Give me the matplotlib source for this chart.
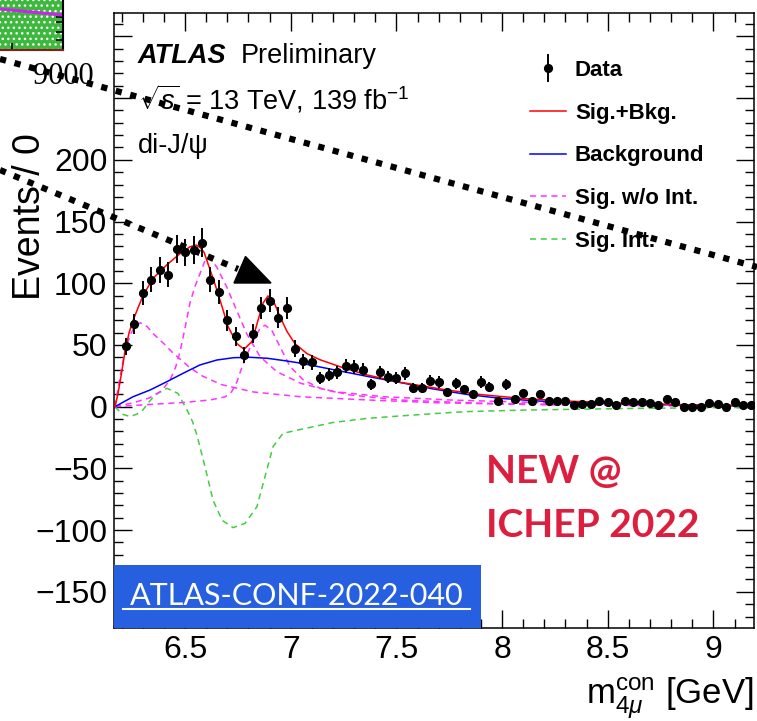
import numpy as np
import matplotlib
matplotlib.use("Agg")
import matplotlib.pyplot as plt
from matplotlib.lines import Line2D
from matplotlib.patches import Rectangle, Polygon
from matplotlib.ticker import MultipleLocator, FuncFormatter
from matplotlib.legend_handler import HandlerErrorbar
from matplotlib.container import ErrorbarContainer

plt.rcParams['font.family'] = ['Liberation Sans', 'DejaVu Sans']
plt.rcParams['mathtext.fontset'] = 'custom'
plt.rcParams['mathtext.rm'] = 'Liberation Sans'
plt.rcParams['mathtext.it'] = 'Liberation Sans:italic'
plt.rcParams['mathtext.bf'] = 'Liberation Sans:bold'

# ---- data: di-J/psi candidates, 40 MeV bins ----
bin_centers = np.round(np.arange(6.22, 9.20, 0.04), 2)
counts = [49, 67, 92, 103, 111, 107, 128, 125, 127, 133,
          103, 93, 70, 57, 42, 59, 80, 86, 72, 80,
          47, 37, 36, 23, 26, 28, 33, 32, 30, 18,
          28, 24, 23, 27, 15, 15, 21, 20, 12, 19,
          14, 10, 20, 16, 5, 18, 6, 11, 5, 10,
          5, 5, 5, 1, 2, 2, 5, 4, 1, 5,
          4, 4, 3, 1, 6, 4, 0, 0, 0, 3,
          2, 0, 4, 1, 1]

# ---- fit curves ----
sb_x = [6.168, 6.182, 6.197, 6.216, 6.235, 6.254, 6.277, 6.301, 6.348, 6.414,
        6.476, 6.523, 6.552, 6.571, 6.590, 6.608, 6.642, 6.675, 6.703, 6.746,
        6.779, 6.817, 6.845, 6.869, 6.892, 6.916, 6.949, 6.982, 7.020, 7.077,
        7.139, 7.233, 7.361, 7.517, 7.740, 7.90, 8.10, 8.30, 8.50, 8.70, 8.90, 9.19]
sb_y = [0, 10, 25, 45, 60, 70, 80, 90, 104, 115,
        124, 129.5, 131, 129, 125, 116, 99, 81, 65, 51,
        46.5, 53, 70, 84, 89.7, 86.4, 73, 61, 51, 43,
        38, 32.4, 25.7, 19.8, 13.5, 9.8, 6.6, 4.6, 3.3, 2.3, 1.5, 0.9]

bkg_x = [6.168, 6.253, 6.334, 6.414, 6.49, 6.57, 6.65, 6.73, 6.81, 6.89,
         6.97, 7.05, 7.21, 7.37, 7.52, 7.67, 7.83, 7.99, 8.15, 8.30,
         8.46, 8.62, 8.78, 8.94, 9.09, 9.19]
bkg_y = [0, 8, 13.5, 20.3, 27, 33.8, 37.8, 39.7, 40, 39.2,
         37.3, 35.2, 29.7, 24.3, 19.5, 14.5, 10, 6.8, 4.8, 3.5,
         2.7, 2.1, 1.6, 1.1, 0.7, 0.5]

sig0_x = [6.168, 6.19, 6.215, 6.24, 6.265, 6.29, 6.32, 6.35, 6.40, 6.44,
          6.52, 6.58, 6.67, 6.82, 7.05, 7.37, 7.69, 8.2, 8.8, 9.19]
sig0_y = [0, 22, 45, 58, 66, 68, 65, 59, 51, 44,
          32, 25, 18, 12, 8, 5.4, 3.2, 1.5, 0.7, 0.4]

sig1_x = [6.168, 6.25, 6.33, 6.39, 6.43, 6.455, 6.476, 6.50, 6.523, 6.548,
          6.571, 6.60, 6.625, 6.65, 6.697, 6.744, 6.792, 6.855, 6.934, 7.046,
          7.201, 7.438, 7.757, 8.2, 8.8, 9.19]
sig1_y = [0, 3, 7, 13, 22, 32, 44.5, 64, 84, 98,
          108, 121, 119, 113, 97, 78, 59, 40.5, 28.4, 19,
          12.2, 8.1, 5.4, 3.2, 1.6, 1.0]

sig2_x = [6.168, 6.35, 6.50, 6.62, 6.69, 6.72, 6.745, 6.775, 6.815, 6.855,
          6.878, 6.91, 6.949, 6.997, 7.06, 7.139, 7.281, 7.517, 7.9, 8.5, 9.19]
sig2_y = [0, 2, 3.5, 5.5, 8, 12, 20, 35, 51, 63.5,
          66, 62, 48.6, 32.4, 21.6, 14.9, 9.5, 5.4, 2.8, 1.3, 0.7]

int_x = [6.168, 6.202, 6.24, 6.272, 6.30, 6.33, 6.358, 6.414, 6.466, 6.51,
         6.535, 6.556, 6.594, 6.632, 6.675, 6.727, 6.784, 6.84, 6.878, 6.916,
         6.963, 7.044, 7.20, 7.36, 7.517, 7.74, 7.83, 8.117, 8.62, 9.19]
int_y = [0, -6, -8, -6, -2.7, 4, 9.5, 14.9, 10.8, -3,
         -12, -23, -48.6, -75.6, -92, -98, -94.5, -81, -56.7, -32.4,
         -21.6, -18.5, -12.8, -9.5, -7.5, -4.9, -4, -2.7, -1.4, -0.5]

# ---- figure ----
W, H = 757, 721
fig = plt.figure(figsize=(W / 100, H / 100), dpi=100)
ax = fig.add_axes([114.3 / W, 1 - 628 / H, (754 - 114.3) / W, (628 - 12.7) / H])

RED, BLUE, MAG, GRN = '#ff0000', '#0000ff', '#ff33ff', '#44cc44'

ax.plot(int_x, int_y, color=GRN, lw=1.1, ls=(0, (4, 3)), zorder=2)
m0, = ax.plot(sig0_x, sig0_y, color=MAG, lw=1.1, ls=(0, (4, 3)), zorder=2)
ax.plot(sig1_x, sig1_y, color=MAG, lw=1.1, ls=(0, (4, 3)), zorder=2)
ax.plot(sig2_x, sig2_y, color=MAG, lw=1.1, ls=(0, (4, 3)), zorder=2)
bl, = ax.plot(bkg_x, bkg_y, color=BLUE, lw=1.1, zorder=3)
rd, = ax.plot(sb_x, sb_y, color=RED, lw=1.1, zorder=3)
gr = Line2D([], [], color=GRN, lw=1.1, ls=(0, (4, 3)))

err = np.sqrt(counts)
eb = ax.errorbar(bin_centers, counts, yerr=err, fmt='o', color='black',
                 ms=5.6, elinewidth=1.4, capsize=0, zorder=4)

ax.set_xlim(6.165, 9.192)
ax.set_ylim(-179.3, 319.2)
ax.xaxis.set_major_locator(MultipleLocator(0.5))
ax.xaxis.set_minor_locator(MultipleLocator(0.1))
ax.yaxis.set_major_locator(MultipleLocator(50))
ax.yaxis.set_minor_locator(MultipleLocator(10))
ax.xaxis.set_major_formatter(FuncFormatter(lambda v, p: f'{v:g}'))
ax.yaxis.set_major_formatter(FuncFormatter(
    lambda v, p: '' if v > 200 else f'{v:g}'.replace('-', '\u2212')))
ax.tick_params(which='both', direction='in', top=True, right=True, width=1.0,
               labelsize=23)
ax.tick_params(which='major', length=13)
ax.tick_params(which='minor', length=6.5)
ax.tick_params(axis='x', pad=5)
ax.tick_params(axis='y', pad=5)
for s in ax.spines.values():
    s.set_linewidth(1.1)

# ---- labels ----
ax.text(0.037, 0.9183, 'ATLAS', transform=ax.transAxes, fontsize=19.5,
        fontweight='bold', fontstyle='italic')
ax.text(0.198, 0.9183, 'Preliminary', transform=ax.transAxes, fontsize=19.5)
ax.text(0.037, 0.8419, r'$\sqrt{s}$ = 13 TeV, 139 fb$^{-1}$',
        transform=ax.transAxes, fontsize=19.5)
ax.text(0.037, 0.772, 'di-J/\u03c8', transform=ax.transAxes, fontsize=19.5)

ax.text(1.0, -0.125, r'm$_{4\mu}^{\mathrm{con}}$ [GeV]', transform=ax.transAxes,
        ha='right', va='baseline', fontsize=25)
fig.text(30 / W, 1 - 300 / H, 'Events / 0', rotation=90, ha='center',
         va='bottom', fontsize=27)

leg = ax.legend([eb, rd, bl, m0, gr],
                ['Data', 'Sig.+Bkg.', 'Background', 'Sig. w/o Int.', 'Sig. Int.'],
                loc='upper left', bbox_to_anchor=(0.6499, 0.9234),
                frameon=False, borderpad=0, borderaxespad=0,
                handlelength=1.62, handletextpad=0.4, labelspacing=0.98,
                prop={'family': 'Liberation Sans', 'weight': 'bold', 'size': 16},
                handler_map={ErrorbarContainer: HandlerErrorbar(yerr_size=0.65, numpoints=1)})

# conference note badge
bw = (481 - 114.3) / 639.7
ax.add_patch(Rectangle((0, 0), bw, (628 - 565) / 615.3, transform=ax.transAxes,
                       facecolor='#2660e0', edgecolor='none', zorder=5, clip_on=False))
ax.text((296.5 - 114.3) / 639.7, (628 - 596) / 615.3, 'ATLAS-CONF-2022-040',
        transform=ax.transAxes, ha='center', va='center', color='white',
        fontsize=22, family='Lato', zorder=6)
ax.add_line(Line2D([(123 - 114.3) / 639.7, (470 - 114.3) / 639.7],
                   [(628 - 609) / 615.3] * 2, transform=ax.transAxes,
                   color='white', lw=1.5, zorder=6))

ax.text((486 - 114.3) / 639.7, (628 - 483) / 615.3, 'NEW @', transform=ax.transAxes,
        color='#dc1f3f', fontsize=28, family='Lato', fontweight='bold', va='baseline')
ax.text((486 - 114.3) / 639.7, (628 - 537) / 615.3, 'ICHEP 2022', transform=ax.transAxes,
        color='#dc1f3f', fontsize=28, family='Lato', fontweight='bold', va='baseline')

# ---- pasted corner: hatched green band from another plot ----
ins = fig.add_axes([0, 1 - 50 / H, 63 / W, 50 / H])
ins.set_xlim(0, 1)
ins.set_ylim(0, 1)
ins.add_patch(Rectangle((0, 0), 1, 1, facecolor='#3cb83c', edgecolor='white',
                        hatch='...', lw=0))
ins.plot([0, 1], [0.82, 0.70], color='#cc22ee', lw=2.2)
ins.spines['left'].set_visible(False)
ins.spines['top'].set_visible(False)
ins.spines['bottom'].set_color('#8b1a1a')
ins.spines['bottom'].set_linewidth(1.5)
ins.spines['right'].set_linewidth(1.5)
ins.set_xticks([0.19])
ins.set_yticks([0.2, 0.36, 0.56, 0.66])
ins.tick_params(direction='in', left=False, right=True, labelleft=False,
                labelbottom=False, length=5, width=1.2)

fig.text(33 / W, 1 - 76 / H, '9000', family='Liberation Serif', fontsize=22,
         ha='left', va='center')

# dotted arrows drawn on top
def to_fig(x, y):
    return x / W, 1 - y / H

for (x0, y0), (x1, y1) in [((0, 59), (757, 267)), ((0, 170), (238, 269))]:
    a, b = to_fig(x0, y0)
    c, d = to_fig(x1, y1)
    fig.add_artist(Line2D([a, c], [b, d], transform=fig.transFigure, color='black',
                          lw=4.5, ls=(0, (1.0, 1.4)), dash_capstyle='butt', zorder=10))
fig.add_artist(Polygon([to_fig(234, 283), to_fig(245.5, 256.5), to_fig(271, 283)],
                       closed=True, transform=fig.transFigure, facecolor='black',
                       edgecolor='black', zorder=10))

fig.savefig('out.png', dpi=100)
